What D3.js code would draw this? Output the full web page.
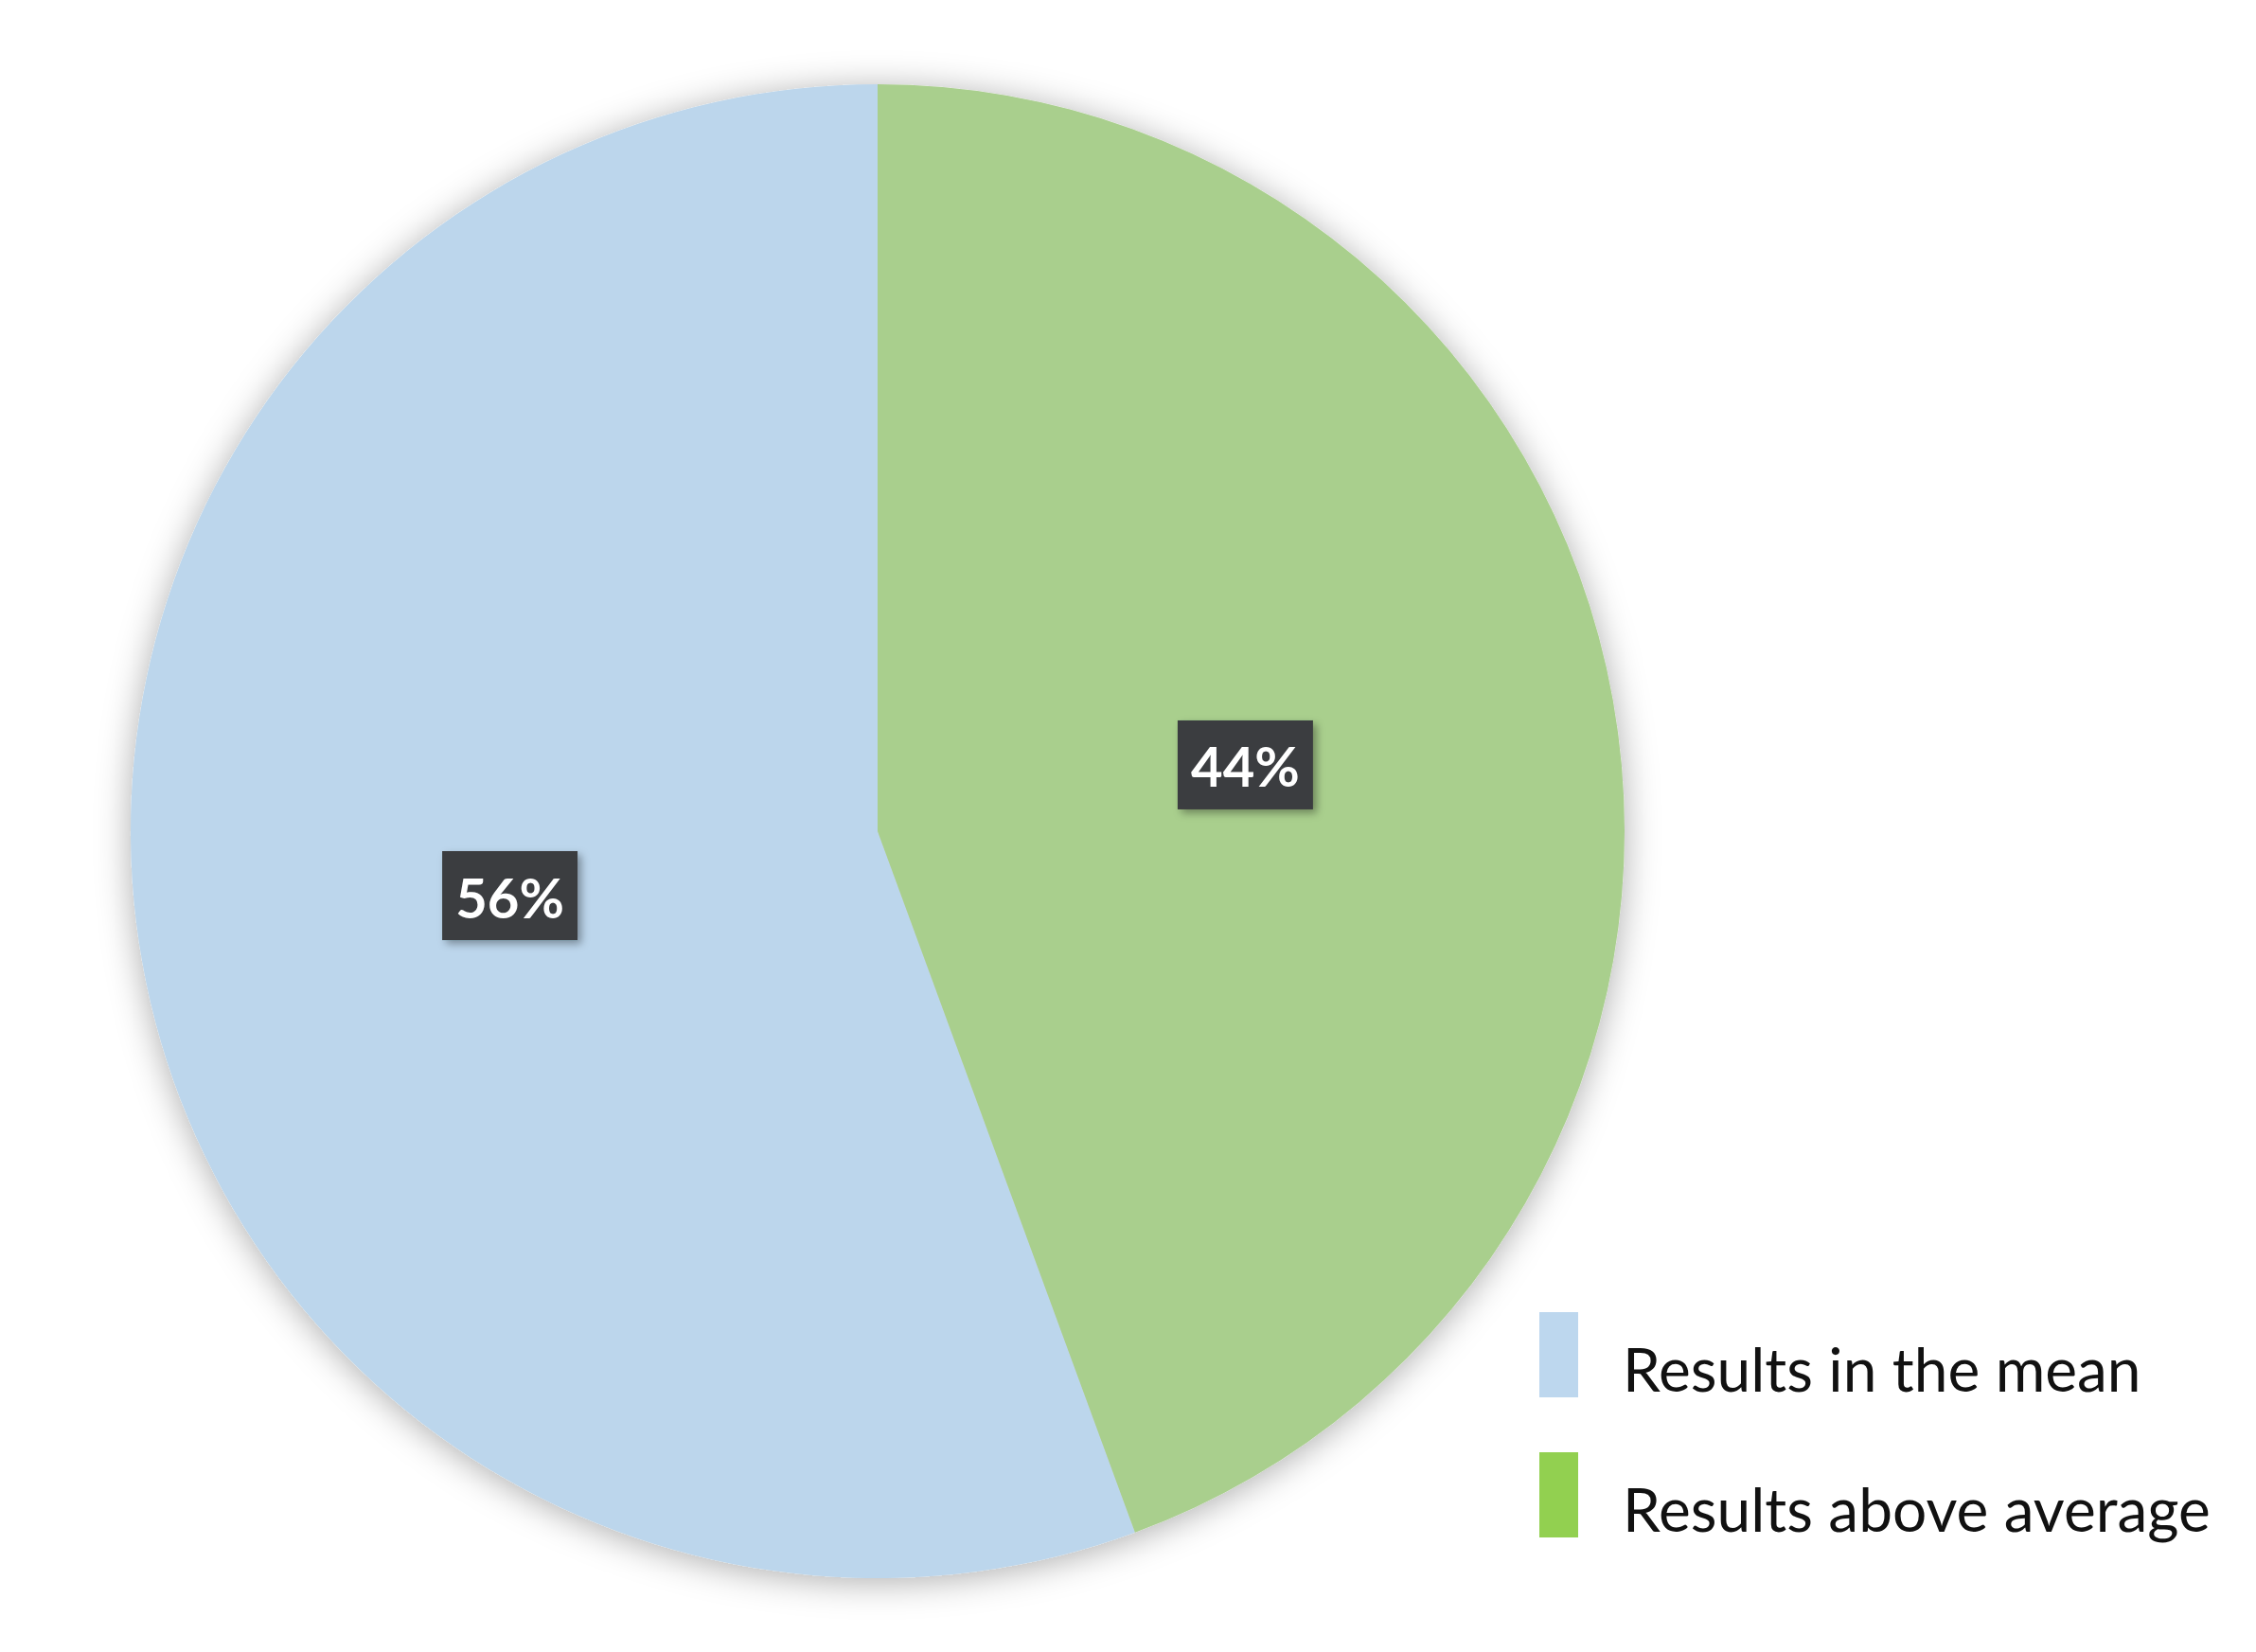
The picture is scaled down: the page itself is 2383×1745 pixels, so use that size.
<!DOCTYPE html>
<html>
<head>
<meta charset="utf-8">
<script src="https://cdn.jsdelivr.net/npm/d3@7"></script>
<style>
  body { margin: 0; background: #ffffff; }
</style>
</head>
<body>
<div id="chart"></div>
<script>
// chart data (shares; labels show them rounded)
var categories = ['Results in the mean', 'Results above average'];
var values = [55.6, 44.4];
var sliceColors = ['#bcd6ec', '#a9cf8d'];
var legendColors = ['#bdd7ee', '#92d050'];

var width = 2383;
var height = 1745;

var svg = d3.select('#chart')
    .append('svg')
    .attr('width', width)
    .attr('height', height);

var defs = svg.append('defs');

// soft glow round the pie
defs.append('filter')
    .attr('id', 'pieShadow')
    .attr('x', '-20%').attr('y', '-20%')
    .attr('width', '140%').attr('height', '140%')
    .append('feDropShadow')
    .attr('dx', 0).attr('dy', 4)
    .attr('stdDeviation', 18)
    .attr('flood-color', '#000')
    .attr('flood-opacity', 0.32);

// shadow for the label boxes
defs.append('filter')
    .attr('id', 'boxShadow')
    .attr('x', '-30%').attr('y', '-30%')
    .attr('width', '160%').attr('height', '160%')
    .append('feDropShadow')
    .attr('dx', 4).attr('dy', 4)
    .attr('stdDeviation', 4)
    .attr('flood-color', '#000')
    .attr('flood-opacity', 0.35);

var cx = 927;
var cy = 878;
var radius = 789;

var total = d3.sum(values);
var percent = d3.format('.0%');

// first slice ends at 12 o'clock, so the second one starts there going clockwise
var pie = d3.pie()
    .sort(null)
    .value(function(d) { return d; })
    .startAngle(-2 * Math.PI * values[0] / total)
    .endAngle(2 * Math.PI * (1 - values[0] / total));

var arcs = pie(values);

var arc = d3.arc()
    .innerRadius(0)
    .outerRadius(radius);

var labelArc = d3.arc()
    .innerRadius(radius * 0.5)
    .outerRadius(radius * 0.5);

var g = svg.append('g')
    .attr('transform', 'translate(' + cx + ',' + cy + ')');

g.append('g')
    .attr('class', 'slices')
    .attr('filter', 'url(#pieShadow)')
    .selectAll('path')
    .data(arcs)
    .enter()
    .append('path')
    .attr('d', arc)
    .attr('fill', function(d, i) { return sliceColors[i]; });

// data labels
var boxW = 143;
var boxH = 94;

var labelGroups = g.selectAll('.data-label')
    .data(arcs)
    .enter()
    .append('g')
    .attr('class', 'data-label')
    .attr('transform', function(d) {
        var c = labelArc.centroid(d);
        return 'translate(' + c[0] + ',' + (c[1] - 1) + ')';
    });

labelGroups.append('rect')
    .attr('x', -boxW / 2)
    .attr('y', -boxH / 2)
    .attr('width', boxW)
    .attr('height', boxH)
    .attr('fill', '#3b3d3f')
    .attr('filter', 'url(#boxShadow)');

labelGroups.append('text')
    .attr('text-anchor', 'middle')
    .attr('dominant-baseline', 'central')
    .attr('y', 1)
    .style('font-family', 'Lato, "Open Sans", sans-serif')
    .style('font-weight', 'bold')
    .style('font-size', '58px')
    .style('fill', '#ffffff')
    .text(function(d) { return percent(d.value / total); });

// legend
var legendX = 1626;
var legendY = 1386;
var legendStep = 148;

var legend = svg.append('g')
    .attr('class', 'legend');

legend.selectAll('.legend-color')
    .data(categories)
    .enter()
    .append('rect')
    .attr('class', 'legend-color')
    .attr('x', legendX)
    .attr('y', function(d, i) { return legendY + i * legendStep; })
    .attr('width', 41)
    .attr('height', 90)
    .attr('fill', function(d, i) { return legendColors[i]; });

legend.selectAll('.legend-text')
    .data(categories)
    .enter()
    .append('text')
    .attr('class', 'legend-text')
    .attr('x', legendX + 88)
    .attr('y', function(d, i) { return legendY + 84 + i * legendStep; })
    .style('font-family', 'Lato, "Open Sans", sans-serif')
    .style('font-size', '64px')
    .style('fill', '#111111')
    .text(function(d) { return d; });
</script>
</body>
</html>
